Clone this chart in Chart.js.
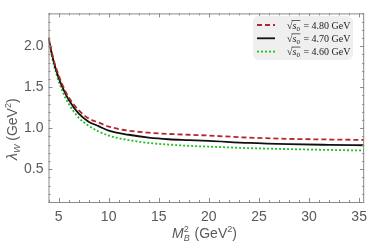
<!DOCTYPE html>
<html>
<head>
<meta charset="utf-8">
<script src="https://cdn.jsdelivr.net/npm/chart.js@4.4.1/dist/chart.umd.min.js"></script>
<style>
  html, body { margin: 0; padding: 0; background: #fff; }
  #c { display: block; }
</style>
</head>
<body>
<canvas id="c" width="374" height="249"></canvas>
<script>
// M_B^2 (GeV^2) sample points
const massSq = [4, 4.5, 5, 5.5, 6, 7, 8, 9, 10, 12, 14, 16, 18, 20, 24, 28, 32, 35.5];
// lambda_W (GeV^2) for each threshold
const lambdaS480 = [2.11, 1.84, 1.65, 1.50, 1.38, 1.22, 1.12, 1.07, 1.02, 0.97, 0.945, 0.93, 0.92, 0.91, 0.885, 0.87, 0.862, 0.857];
const lambdaS470 = [2.10, 1.82, 1.62, 1.47, 1.35, 1.18, 1.08, 1.025, 0.97, 0.92, 0.885, 0.865, 0.855, 0.845, 0.82, 0.805, 0.797, 0.792];
const lambdaS460 = [2.09, 1.79, 1.58, 1.42, 1.30, 1.13, 1.03, 0.96, 0.91, 0.855, 0.82, 0.80, 0.785, 0.775, 0.757, 0.745, 0.735, 0.728];
const seriesLabels = ['4.80', '4.70', '4.60'];
const xTickLabels = [5, 10, 15, 20, 25, 30, 35];
const yTickLabels = [0.5, 1.0, 1.5, 2.0];

const GRAY = '#8a8a8a';
const TXT = '#5a5a5a';

function pts(ys) { return massSq.map((x, i) => ({ x: x, y: ys[i] })); }

// frame + inward ticks (Mathematica style)
const framePlugin = {
  id: 'frame',
  afterDraw(chart) {
    const { ctx, chartArea: a, scales } = chart;
    ctx.save();
    ctx.strokeStyle = GRAY;
    ctx.lineWidth = 1;
    ctx.strokeRect(a.left + 0.5, a.top + 0.5, a.right - a.left - 1, a.bottom - a.top);
    scales.x.ticks.forEach(t => {
      const px = Math.round(scales.x.getPixelForValue(t.value)) + 0.5;
      const len = xTickLabels.includes(Math.round(t.value)) ? 4 : 2;
      ctx.beginPath();
      ctx.moveTo(px, a.bottom); ctx.lineTo(px, a.bottom - len);
      ctx.moveTo(px, a.top); ctx.lineTo(px, a.top + len);
      ctx.stroke();
    });
    scales.y.ticks.forEach(t => {
      const py = Math.round(scales.y.getPixelForValue(t.value)) + 0.5;
      const len = Math.round(t.value * 10) % 5 === 0 ? 4 : 2;
      ctx.beginPath();
      ctx.moveTo(a.left, py); ctx.lineTo(a.left + len, py);
      ctx.moveTo(a.right, py); ctx.lineTo(a.right - len, py);
      ctx.stroke();
    });

    // axis titles
    ctx.fillStyle = TXT;
    ctx.textBaseline = 'alphabetic';
    // x title: M_B^2 (GeV^2)
    let x = 172, y = 238;
    ctx.font = 'italic 14px "Liberation Sans", Arial, sans-serif';
    ctx.fillText('M', x, y); x += ctx.measureText('M').width;
    ctx.font = 'italic 9px "Liberation Sans", Arial, sans-serif';
    ctx.fillText('B', x, y + 3);
    ctx.font = '9px "Liberation Sans", Arial, sans-serif';
    ctx.fillText('2', x, y - 6); x += 7;
    ctx.font = '14px "Liberation Sans", Arial, sans-serif';
    ctx.fillText(' (GeV', x, y); x += ctx.measureText(' (GeV').width;
    ctx.font = '9px "Liberation Sans", Arial, sans-serif';
    ctx.fillText('2', x, y - 6); x += ctx.measureText('2').width;
    ctx.font = '14px "Liberation Sans", Arial, sans-serif';
    ctx.fillText(')', x, y);

    // y title: lambda_W (GeV^2), rotated
    ctx.save();
    ctx.translate(17, 160);
    ctx.rotate(-Math.PI / 2);
    x = 0; y = 0;
    ctx.font = 'italic 14px "Liberation Sans", Arial, sans-serif';
    ctx.fillText('λ', x, y); x += ctx.measureText('λ').width;
    ctx.font = 'italic 9px "Liberation Sans", Arial, sans-serif';
    ctx.fillText('W', x, y + 3); x += ctx.measureText('W').width;
    ctx.font = '14px "Liberation Sans", Arial, sans-serif';
    ctx.fillText(' (GeV', x, y); x += ctx.measureText(' (GeV').width;
    ctx.font = '9px "Liberation Sans", Arial, sans-serif';
    ctx.fillText('2', x, y - 6); x += ctx.measureText('2').width;
    ctx.font = '14px "Liberation Sans", Arial, sans-serif';
    ctx.fillText(')', x, y);
    ctx.restore();

    // legend box
    const bx = 253, by = 16, bw = 100, bh = 44;
    ctx.fillStyle = '#efefef';
    ctx.beginPath();
    ctx.roundRect(bx, by, bw, bh, 6);
    ctx.fill();
    chart.data.datasets.forEach((ds, i) => {
      const ly = 25 + i * 13.3;
      ctx.strokeStyle = ds.borderColor;
      ctx.lineWidth = ds.borderWidth;
      ctx.setLineDash(ds.borderDash || []);
      ctx.beginPath();
      ctx.moveTo(257, ly); ctx.lineTo(275, ly);
      ctx.stroke();
      ctx.setLineDash([]);
      ctx.fillStyle = '#222';
      let tx = 287;
      const base = ly + 3.5;
      ctx.font = '10px "Liberation Serif", "Times New Roman", serif';
      ctx.fillText('√', tx, base); tx += ctx.measureText('√').width;
      const ox = tx;
      ctx.font = 'italic 10px "Liberation Serif", serif';
      ctx.fillText('s', tx, base); tx += ctx.measureText('s').width;
      ctx.font = '7px "Liberation Serif", serif';
      ctx.fillText('0', tx, base + 2); tx += ctx.measureText('0').width;
      ctx.strokeStyle = '#222';
      ctx.lineWidth = 0.7;
      ctx.beginPath(); ctx.moveTo(ox - 1, base - 8); ctx.lineTo(tx + 0.5, base - 8); ctx.stroke();
      ctx.font = '10px "Liberation Serif", serif';
      ctx.fillText(' = ' + ds.label + ' GeV', tx + 1, base);
    });
    ctx.restore();
  }
};

new Chart(document.getElementById('c'), {
  type: 'line',
  data: {
    datasets: [
      { label: seriesLabels[0], data: pts(lambdaS480), borderColor: '#b5262b', borderWidth: 1.8, borderDash: [5, 3] },
      { label: seriesLabels[1], data: pts(lambdaS470), borderColor: '#111111', borderWidth: 1.8 },
      { label: seriesLabels[2], data: pts(lambdaS460), borderColor: '#1fbf1f', borderWidth: 1.8, borderDash: [2, 2] }
    ]
  },
  options: {
    responsive: false,
    animation: false,
    events: [],
    layout: { padding: { top: 2, right: 4, left: 0, bottom: 0 } },
    elements: {
      point: { radius: 0 },
      line: { cubicInterpolationMode: 'monotone', fill: false }
    },
    plugins: { legend: { display: false }, tooltip: { enabled: false } },
    scales: {
      x: {
        type: 'linear',
        min: 4,
        max: 35.5,
        border: { display: false },
        grid: { display: false, drawTicks: false },
        afterFit(s) { s.height = 47; },
        ticks: {
          stepSize: 1,
          autoSkip: false,
          maxRotation: 0,
          includeBounds: false,
          padding: 7,
          color: TXT,
          font: { family: '"Liberation Sans", Arial, sans-serif', size: 14 },
          callback: v => xTickLabels.includes(Math.round(v)) && Math.abs(v - Math.round(v)) < 1e-6 ? String(Math.round(v)) : ''
        }
      },
      y: {
        type: 'linear',
        min: 0.1,
        max: 2.4,
        border: { display: false },
        grid: { display: false, drawTicks: false },
        afterFit(s) { s.width = 48.5; },
        ticks: {
          stepSize: 0.1,
          autoSkip: false,
          includeBounds: false,
          padding: 5,
          color: TXT,
          font: { family: '"Liberation Sans", Arial, sans-serif', size: 14 },
          callback: v => {
            const r = Math.round(v * 10) / 10;
            return yTickLabels.some(t => Math.abs(t - r) < 1e-6) ? r.toFixed(1) : '';
          }
        }
      }
    }
  },
  plugins: [framePlugin]
});
</script>
</body>
</html>
